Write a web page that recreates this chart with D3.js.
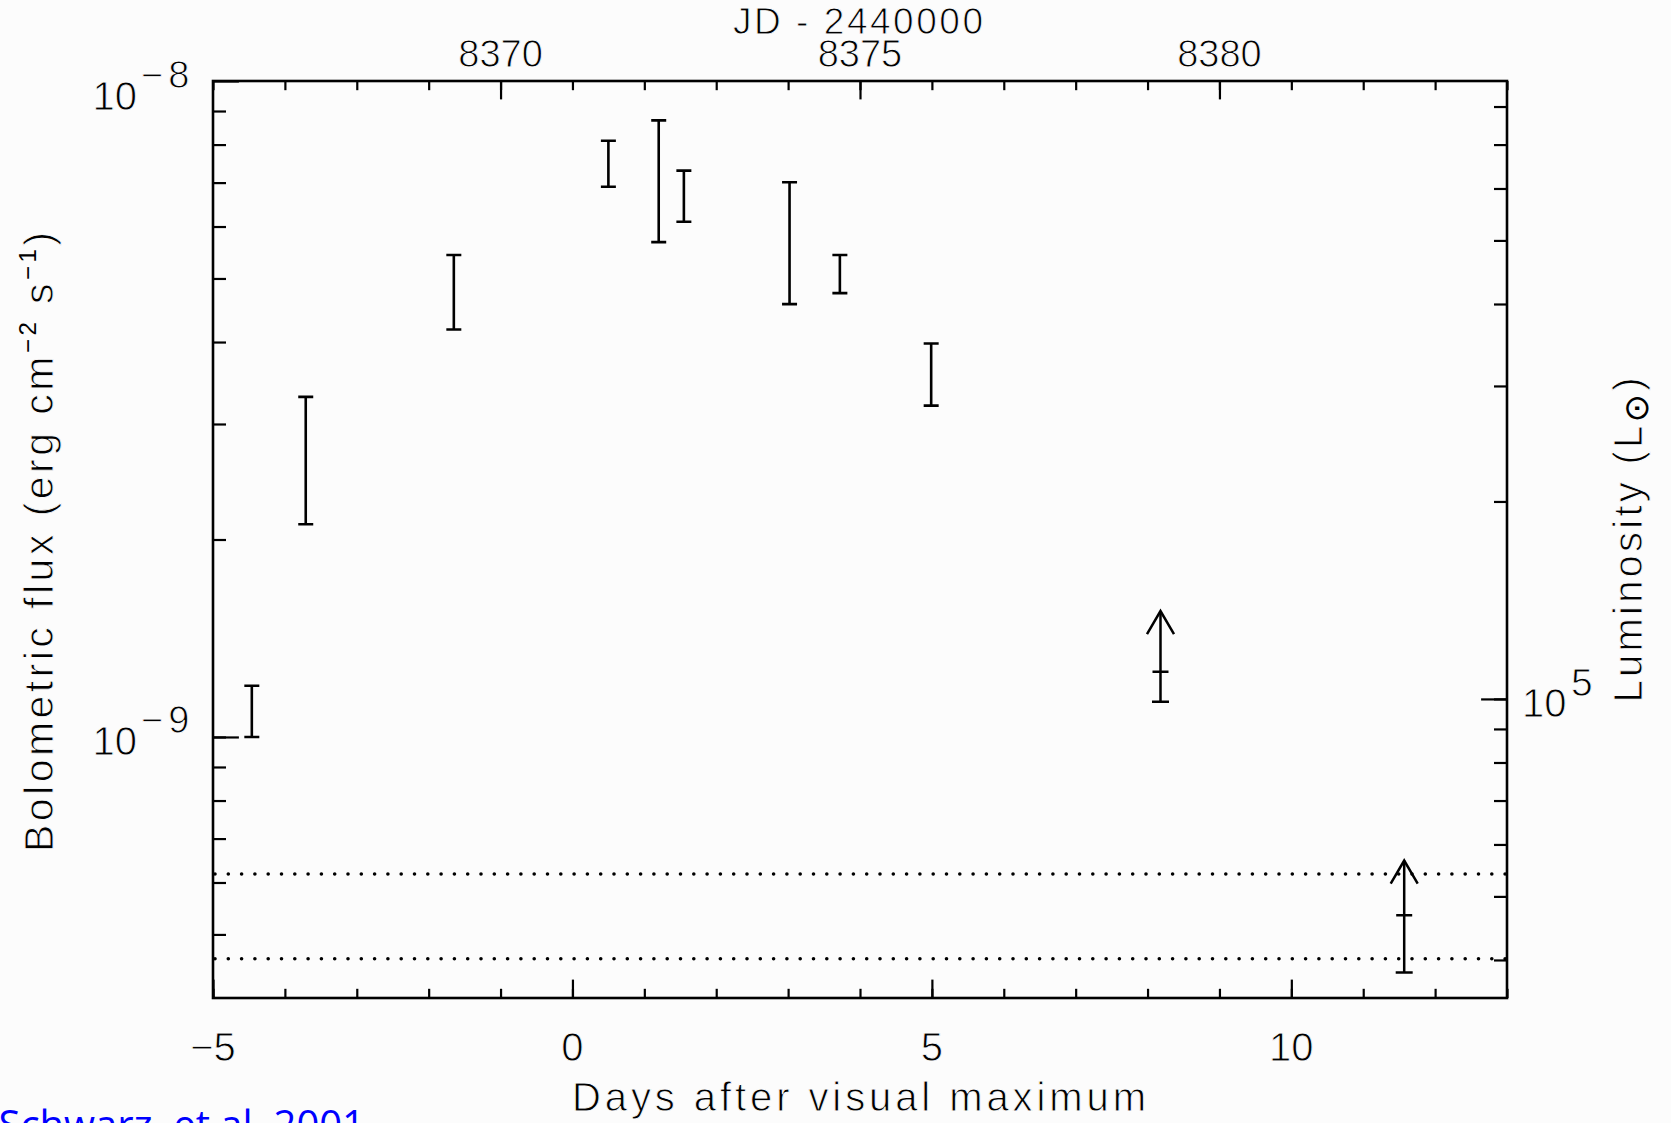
<!DOCTYPE html>
<html>
<head>
<meta charset="utf-8">
<script src="https://cdn.jsdelivr.net/npm/d3@7"></script>
<style>
  html, body { margin: 0; padding: 0; background: #fcfcfc; overflow: hidden; }
  svg { display: block; }
  text { font-family: "Liberation Sans", Arial, sans-serif; fill: #000; }
  text.lbl { stroke: #fcfcfc; stroke-width: 0.9px; }
  tspan.small { stroke: none; }
</style>
</head>
<body>
<svg id="chart" width="1671" height="1123"></svg>
<script>
// Bolometric light curve: days after visual maximum, flux error ranges
const days     = [-4.46, -3.71, -1.65, 0.50, 1.20, 1.55, 3.02, 3.72, 4.99];
const fluxHigh = [1.197e-9, 3.30e-9, 5.43e-9, 8.11e-9, 8.71e-9, 7.30e-9, 7.01e-9, 5.43e-9, 3.98e-9];
const fluxLow  = [1.00e-9, 2.11e-9, 4.18e-9, 6.90e-9, 5.68e-9, 6.10e-9, 4.57e-9, 4.75e-9, 3.20e-9];

// Lower limits (value, error range, arrow tip)
const limitDays = [8.18, 11.57];
const limitFlux = [1.257e-9, 5.35e-10];
const limitLow  = [1.132e-9, 4.375e-10];
const limitHigh = [1.556e-9, 6.48e-10];

// Dotted horizontal levels
const levels = [6.18e-10, 4.59e-10];

// Axis ticks and labels
const dayTicks = [-5, 0, 5, 10];
const dayTickLabels = ["\u22125", "0", "5", "10"];
const jdTicks = [8370, 8375, 8380];
const jdAtMaximum = 8371;            // JD - 2440000 of visual maximum
const fluxTicks = [1e-9, 1e-8];
const fluxTickBase = ["10", "10"];
const fluxTickExp = ["\u22129", "\u22128"];
const lumTicks = [1e5];
const lumTickBase = ["10"];
const lumTickExp = ["5"];
const lumPerFlux = 8.75e13;          // L_sun per (erg cm^-2 s^-1)

const plotLeft = 213, plotRight = 1507, plotTop = 81, plotBottom = 998;
const svg = d3.select("#chart");

const dayDomain = [-5, 13];
const x = d3.scaleLinear().domain(dayDomain).range([plotLeft, plotRight]);
const xTop = d3.scaleLinear().domain(dayDomain.map(d => d + jdAtMaximum)).range([plotLeft, plotRight]);
const y = d3.scaleLog().domain([4e-10, 1e-8]).range([plotBottom, plotTop]);
const yR = d3.scaleLog().domain(y.domain().map(f => f * lumPerFlux)).range([plotBottom, plotTop]);

const ink = "#000";
const xMajor = 18.4, xMinor = 9.2, yMajor = 25.9, yMinor = 13;

function styleAxis(g, w) {
  g.select(".domain").remove();
  g.selectAll(".tick line").attr("stroke", ink).attr("stroke-width", w);
  g.selectAll(".tick text").remove();
}

// minor/major ticks (all pointing inward)
const dayMinor = d3.range(dayDomain[0], dayDomain[1] + 1);
const jdMinor = dayMinor.map(d => d + jdAtMaximum);
const fluxMinor = y.ticks().filter(v => v > y.domain()[0] && v < y.domain()[1]);
const lumMinor = yR.ticks().filter(v => v > yR.domain()[0] && v < yR.domain()[1]);

svg.append("g").attr("transform", `translate(0,${plotBottom})`)
  .call(d3.axisBottom(x).tickValues(dayMinor).tickSize(-xMinor).tickSizeOuter(0)).call(g => styleAxis(g, 2.2));
svg.append("g").attr("transform", `translate(0,${plotBottom})`)
  .call(d3.axisBottom(x).tickValues(dayTicks).tickSize(-xMajor).tickSizeOuter(0)).call(g => styleAxis(g, 2.2));
svg.append("g").attr("transform", `translate(0,${plotTop})`)
  .call(d3.axisTop(xTop).tickValues(jdMinor).tickSize(-xMinor).tickSizeOuter(0)).call(g => styleAxis(g, 2.2));
svg.append("g").attr("transform", `translate(0,${plotTop})`)
  .call(d3.axisTop(xTop).tickValues(jdTicks).tickSize(-xMajor).tickSizeOuter(0)).call(g => styleAxis(g, 2.2));
svg.append("g").attr("transform", `translate(${plotLeft},0)`)
  .call(d3.axisLeft(y).tickValues(fluxMinor).tickSize(-yMinor).tickSizeOuter(0)).call(g => styleAxis(g, 2.2));
svg.append("g").attr("transform", `translate(${plotLeft},0)`)
  .call(d3.axisLeft(y).tickValues(fluxTicks).tickSize(-yMajor).tickSizeOuter(0)).call(g => styleAxis(g, 2.2));
svg.append("g").attr("transform", `translate(${plotRight},0)`)
  .call(d3.axisRight(yR).tickValues(lumMinor).tickSize(-yMinor).tickSizeOuter(0)).call(g => styleAxis(g, 2.2));
svg.append("g").attr("transform", `translate(${plotRight},0)`)
  .call(d3.axisRight(yR).tickValues(lumTicks).tickSize(-yMajor).tickSizeOuter(0)).call(g => styleAxis(g, 2.2));

// plot frame
svg.append("rect")
  .attr("x", plotLeft).attr("y", plotTop)
  .attr("width", plotRight - plotLeft).attr("height", plotBottom - plotTop)
  .attr("fill", "none").attr("stroke", ink).attr("stroke-width", 2.6);

// dotted levels
svg.append("g").selectAll("line").data(levels).join("line")
  .attr("x1", plotLeft + 2).attr("x2", plotRight)
  .attr("y1", d => y(d)).attr("y2", d => y(d))
  .attr("stroke", ink).attr("stroke-width", 3.6)
  .attr("stroke-linecap", "round").attr("stroke-dasharray", "0 13.3");

// error bars
const cap = 7.5;
const bars = svg.append("g").attr("stroke", ink).attr("stroke-width", 2.6).attr("fill", "none");
days.forEach((d, i) => {
  const cx = x(d), y1 = y(fluxHigh[i]), y2 = y(fluxLow[i]);
  bars.append("path").attr("d",
    `M${cx},${y1}V${y2}M${cx - cap},${y1}H${cx + cap}M${cx - cap},${y2}H${cx + cap}`);
});

// lower limits with arrows
const limits = svg.append("g").attr("stroke", ink).attr("stroke-width", 2.5).attr("fill", "none");
limitDays.forEach((d, i) => {
  const cx = x(d), yv = y(limitFlux[i]), yl = y(limitLow[i]), yt = y(limitHigh[i]);
  limits.append("path").attr("d",
    `M${cx},${yl}V${yt}M${cx - 8.5},${yl}H${cx + 8.5}M${cx - 8},${yv}H${cx + 8}`);
  limits.append("path").attr("d",
    `M${cx - 13.5},${yt + 23}L${cx},${yt}L${cx + 13.5},${yt + 23}`);
});

// bottom tick labels
svg.append("g").selectAll("text").data(dayTicks).join("text")
  .attr("class", "lbl")
  .attr("x", d => x(d)).attr("y", 1061)
  .attr("text-anchor", "middle").attr("font-size", 40)
  .text((d, i) => dayTickLabels[i]);

// top tick labels
svg.append("g").selectAll("text").data(jdTicks).join("text")
  .attr("class", "lbl")
  .attr("x", d => xTop(d)).attr("y", 67)
  .attr("text-anchor", "middle").attr("font-size", 38)
  .text(d => d);

// left tick labels (power of ten), kept inside the figure at the top
fluxTicks.forEach((v, i) => {
  const base = Math.max(y(v) + 18, 110);
  svg.append("text").attr("class", "lbl").attr("x", 137).attr("y", base)
    .attr("text-anchor", "end").attr("font-size", 40).text(fluxTickBase[i]);
  svg.append("text").attr("class", "lbl").attr("x", 141).attr("y", base - 22)
    .attr("font-size", 38).attr("letter-spacing", 5).text(fluxTickExp[i]);
});

// right tick labels
lumTicks.forEach((v, i) => {
  const base = yR(v) + 18;
  svg.append("text").attr("class", "lbl").attr("x", 1522).attr("y", base)
    .attr("font-size", 40).text(lumTickBase[i]);
  svg.append("text").attr("class", "lbl").attr("x", 1571).attr("y", base - 21)
    .attr("font-size", 39).text(lumTickExp[i]);
});

// axis titles
svg.append("text").attr("class", "lbl").attr("x", 859).attr("y", 1111)
  .attr("text-anchor", "middle").attr("font-size", 40)
  .attr("textLength", 574).attr("lengthAdjust", "spacing")
  .text("Days after visual maximum");

svg.append("text").attr("class", "lbl").attr("x", 858).attr("y", 34)
  .attr("text-anchor", "middle").attr("font-size", 37)
  .attr("textLength", 250).attr("lengthAdjust", "spacing")
  .text("JD - 2440000");

const yTitle = svg.append("text").attr("class", "lbl")
  .attr("transform", "translate(53,542) rotate(-90)")
  .attr("text-anchor", "middle").attr("font-size", 41)
  .attr("textLength", 620).attr("lengthAdjust", "spacing");
yTitle.append("tspan").text("Bolometric flux (erg cm");
yTitle.append("tspan").attr("class", "small").attr("dy", -17).attr("font-size", 24).text("\u22122");
yTitle.append("tspan").attr("dy", 17).text(" s");
yTitle.append("tspan").attr("class", "small").attr("dy", -17).attr("font-size", 24).text("\u22121");
yTitle.append("tspan").attr("dy", 17).text(")");

const rTitle = svg.append("text").attr("class", "lbl")
  .attr("transform", "translate(1642,540) rotate(-90)")
  .attr("text-anchor", "middle").attr("font-size", 40)
  .attr("textLength", 325).attr("lengthAdjust", "spacing");
rTitle.append("tspan").text("Luminosity  (L");
rTitle.append("tspan").attr("class", "small").attr("dy", 6).attr("font-size", 34)
  .style("font-family", "'DejaVu Sans', sans-serif").text("\u2299");
rTitle.append("tspan").attr("dy", -6).text(")");

// source credit
svg.append("text").attr("x", 365).attr("y", 1139)
  .attr("text-anchor", "end").attr("font-size", 40)
  .style("font-family", "'Open Sans', sans-serif").style("fill", "#0000ff")
  .text("Schwarz, et al. 2001");
</script>
</body>
</html>
